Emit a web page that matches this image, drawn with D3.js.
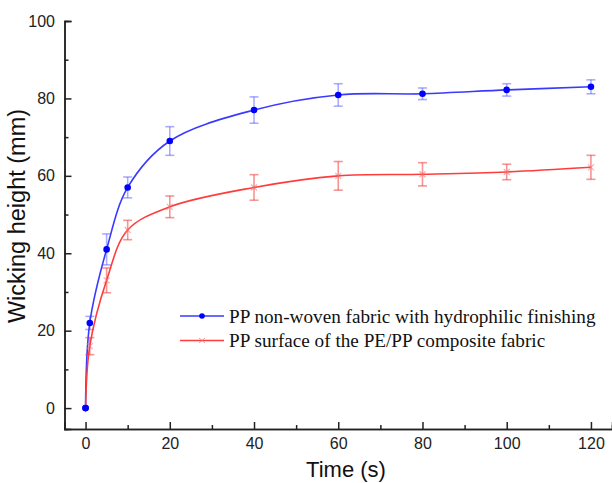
<!DOCTYPE html>
<html>
<head>
<meta charset="utf-8">
<script src="https://cdn.jsdelivr.net/npm/d3@7"></script>
<style>
  body { margin: 0; background: #fff; }
  svg { display: block; }
  .tick text { font-family: "Liberation Sans", Arial, sans-serif; font-size: 16px; fill: #222; }
</style>
</head>
<body>
<script>
const times = [0, 1, 5, 10, 20, 40, 60, 80, 100, 120]
const hydroMean = [0, 22, 41, 57, 69, 77, 80.9, 81.2, 82.2, 83]
const hydroErr  = [0, 1.7, 4, 2.7, 3.7, 3.4, 2.9, 1.5, 1.6, 1.8]
const compMean  = [0, 16, 33, 46, 52, 57, 60, 60.4, 61, 62.2]
const compErr   = [0, 2.2, 3.2, 2.5, 2.8, 3.3, 3.7, 3, 2, 3.1]
const seriesNames = ['PP non-woven fabric with hydrophilic finishing', 'PP surface of the PE/PP composite fabric']
const xTicks = [0, 20, 40, 60, 80, 100, 120]
const yTicks = [0, 20, 40, 60, 80, 100]

const W = 612, H = 483
const svg = d3.select('body').append('svg').attr('width', W).attr('height', H)

const x = d3.scaleLinear().domain([-5, 125]).range([64.5, 612])
const y = d3.scaleLinear().domain([-5.4, 100]).range([429, 21])

const series = [
  { name: seriesNames[0], mean: hydroMean, err: hydroErr, line: '#3a3aff', bar: 'rgba(70,70,255,0.45)', mark: 'dot' },
  { name: seriesNames[1], mean: compMean, err: compErr, line: '#ff3c3c', bar: 'rgba(240,60,60,0.55)', mark: 'cross' }
]

// axes (ticks pointing inward)
const xAxisMinor = d3.axisBottom(x).tickValues(d3.range(10, 121, 20)).tickSize(-4).tickFormat('')
const xAxis = d3.axisBottom(x).tickValues(xTicks).tickSize(-7).tickPadding(8.5).tickFormat(d3.format('d'))
const yAxisMinor = d3.axisLeft(y).tickValues(d3.range(10, 100, 20)).tickSize(-4).tickFormat('')
const yAxis = d3.axisLeft(y).tickValues(yTicks).tickSize(-7).tickPadding(9.5).tickFormat(d3.format('d'))

function styleAxis(g){
  g.select('.domain').attr('stroke', '#222').attr('stroke-width', 1.5)
  g.selectAll('.tick line').attr('stroke', '#222').attr('stroke-width', 1.5)
}
svg.append('g').attr('transform', 'translate(0,429)').call(xAxisMinor).call(styleAxis)
svg.append('g').attr('transform', 'translate(0,429)').call(xAxis).call(styleAxis)
  .selectAll('.tick text').attr('dy', '0.71em')
svg.append('g').attr('transform', 'translate(64.5,0)').call(yAxisMinor).call(styleAxis)
svg.append('g').attr('transform', 'translate(64.5,0)').call(yAxis).call(styleAxis)

// axis titles
svg.append('text')
  .attr('transform', 'translate(25,216) rotate(-90)')
  .attr('text-anchor', 'middle')
  .style('font-family', '"Liberation Sans", Arial, sans-serif')
  .style('font-size', '23.5px').attr('fill', '#111')
  .text('Wicking height (mm)')
svg.append('text')
  .attr('x', 346).attr('y', 477)
  .attr('text-anchor', 'middle')
  .style('font-family', '"Liberation Sans", Arial, sans-serif')
  .style('font-size', '22px').attr('fill', '#111')
  .text('Time (s)')

const plot = svg.append('g')
const line = d3.line().x(d => x(d[0])).y(d => y(d[1])).curve(d3.curveCatmullRom.alpha(0.5))

series.forEach(s => {
  const pts = times.map((t, i) => [t, s.mean[i], s.err[i]])
  const g = plot.append('g')
  // error bars
  const eb = g.selectAll('g.eb').data(pts.filter(d => d[2] > 0)).enter().append('g')
    .attr('stroke', s.bar).attr('stroke-width', 1.6)
  eb.append('line')
    .attr('x1', d => x(d[0])).attr('x2', d => x(d[0]))
    .attr('y1', d => y(d[1] - d[2])).attr('y2', d => y(d[1] + d[2]))
  eb.append('line')
    .attr('x1', d => x(d[0]) - 4.5).attr('x2', d => x(d[0]) + 4.5)
    .attr('y1', d => y(d[1] + d[2])).attr('y2', d => y(d[1] + d[2]))
  eb.append('line')
    .attr('x1', d => x(d[0]) - 4.5).attr('x2', d => x(d[0]) + 4.5)
    .attr('y1', d => y(d[1] - d[2])).attr('y2', d => y(d[1] - d[2]))
  // curve
  g.append('path').datum(pts).attr('d', line)
    .attr('fill', 'none').attr('stroke', s.line).attr('stroke-width', 1.6)
  // markers
  if (s.mark === 'dot') {
    g.selectAll('circle').data(pts).enter().append('circle')
      .attr('cx', d => x(d[0])).attr('cy', d => y(d[1])).attr('r', 3.3)
      .attr('fill', '#0000ff')
  } else {
    g.selectAll('path.cr').data(pts.slice(1)).enter().append('path')
      .attr('class', 'cr')
      .attr('d', d => `M${x(d[0]) - 3},${y(d[1]) - 3}L${x(d[0]) + 3},${y(d[1]) + 3}M${x(d[0]) - 3},${y(d[1]) + 3}L${x(d[0]) + 3},${y(d[1]) - 3}`)
      .attr('stroke', 'rgba(240,120,120,0.6)').attr('stroke-width', 1.2)
  }
})
// origin point (shared)
plot.append('circle').attr('cx', x(times[0])).attr('cy', y(hydroMean[0])).attr('r', 3.3).attr('fill', '#0000ff')

// legend
const legend = svg.append('g')
series.forEach((s, i) => {
  const ly = 316 + i * 24.5
  legend.append('line').attr('x1', 180).attr('x2', 224).attr('y1', ly).attr('y2', ly)
    .attr('stroke', s.line).attr('stroke-width', 1.6)
  if (s.mark === 'dot') {
    legend.append('circle').attr('cx', 202).attr('cy', ly).attr('r', 2.8).attr('fill', '#0000ff')
  } else {
    legend.append('path').attr('d', `M199,${ly - 2.5}L205,${ly + 2.5}M199,${ly + 2.5}L205,${ly - 2.5}`)
      .attr('stroke', 'rgba(240,120,120,0.7)').attr('stroke-width', 1)
  }
  legend.append('text').attr('x', 229).attr('y', ly + 6.5)
    .style('font-family', '"Liberation Serif", "Times New Roman", serif')
    .style('font-size', '19.2px').attr('fill', '#111')
    .text(s.name)
})
</script>
</body>
</html>
